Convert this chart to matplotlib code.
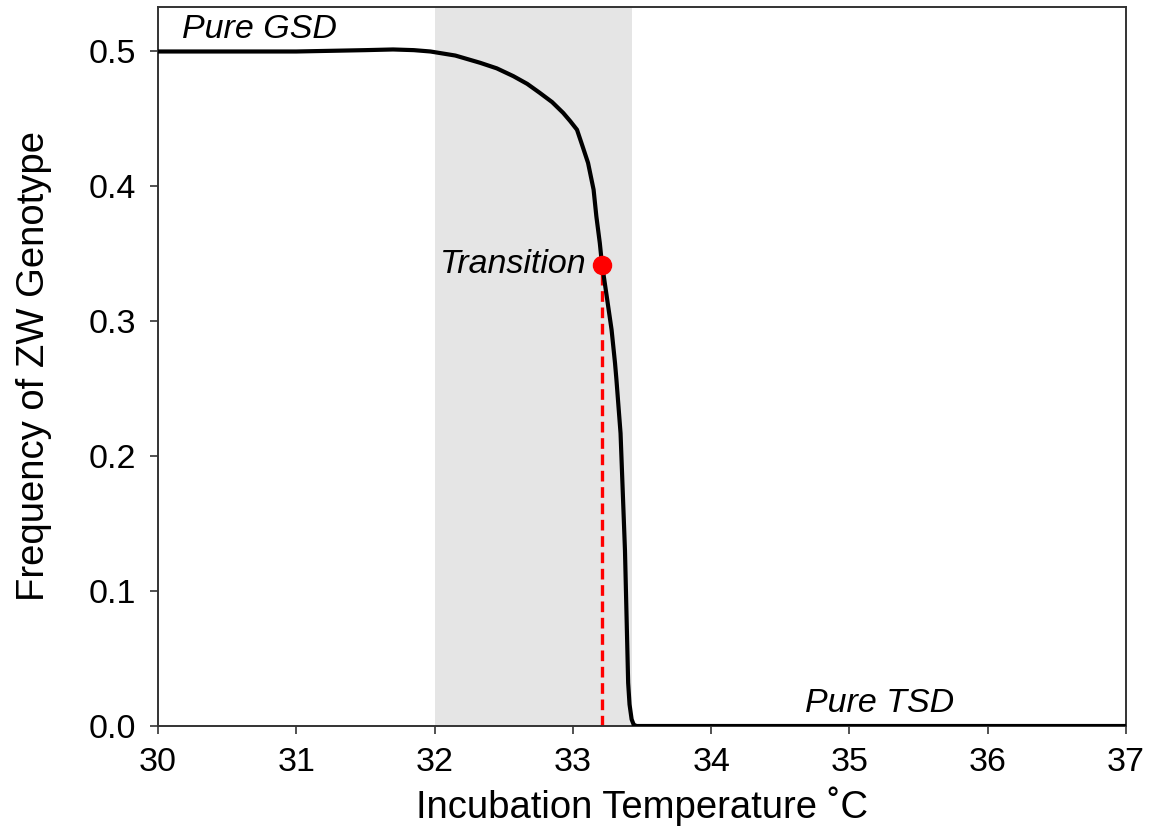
import matplotlib
matplotlib.use('Agg')
import matplotlib.pyplot as plt


# curve, temperature (C) vs ZW frequency
TEMP = [30.0, 30.5, 31.0, 31.3, 31.5, 31.7, 31.85, 31.97, 32.15, 32.33,
        32.45, 32.57, 32.67, 32.76, 32.85, 32.93, 32.98, 33.03, 33.07,
        33.11, 33.15, 33.17, 33.195, 33.21, 33.245, 33.28, 33.305, 33.315,
        33.345, 33.377, 33.4, 33.41, 33.425, 33.44, 33.46, 34.0, 37.0]
FREQ = [0.5, 0.5, 0.5, 0.5006, 0.501, 0.5015, 0.501, 0.5, 0.497, 0.4916,
        0.4875, 0.4817, 0.476, 0.4694, 0.4625, 0.4545, 0.4485, 0.442, 0.4298,
        0.4174, 0.3976, 0.3778, 0.358, 0.343, 0.3185, 0.2938, 0.269, 0.257,
        0.217, 0.13, 0.032, 0.016, 0.005, 0.001, 0.0, 0.0, 0.0]

SHADE = (32.0, 33.43)
TRANSITION = (33.21, 0.342)
XTICKS = [30, 31, 32, 33, 34, 35, 36, 37]
YTICKS = [0.0, 0.1, 0.2, 0.3, 0.4, 0.5]

plt.rcParams['font.family'] = ['Liberation Sans', 'DejaVu Sans']

fig = plt.figure(figsize=(11.56, 8.4), dpi=100)
ax = fig.add_axes([0.1367, 0.1357, 0.8373, 0.856])

ax.axvspan(SHADE[0], SHADE[1], color='#e5e5e5', lw=0, zorder=0)
ax.plot(TEMP, FREQ, color='black', lw=3, solid_capstyle='butt',
        solid_joinstyle='round', zorder=3)
ax.plot([TRANSITION[0], TRANSITION[0]], [0, TRANSITION[1]], color='red',
        lw=2.4, ls=(0, (3.2, 1.7)), zorder=2)
ax.plot([TRANSITION[0]], [TRANSITION[1]], 'o', color='red', ms=13, zorder=4)

ax.text(30.17, 0.516, 'Pure GSD', fontsize=24.5, style='italic', va='center')
ax.text(34.68, 0.017, 'Pure TSD', fontsize=24.5, style='italic', va='center')
ax.text(33.1, 0.342, 'Transition', fontsize=24.5, style='italic',
        va='center', ha='right')

ax.set_xlim(30, 37)
ax.set_ylim(0, 0.533)
ax.set_xticks(XTICKS)
ax.set_yticks(YTICKS)
ax.set_yticklabels([f'{v:.1f}' for v in YTICKS])
ax.tick_params(labelsize=24.5, length=6, width=1.2, color='#333333')
ax.tick_params(axis='y', pad=10)
ax.tick_params(axis='x', pad=9)
for s in ax.spines.values():
    s.set_color('#333333')
    s.set_linewidth(1.4)

ax.set_xlabel('Incubation Temperature ˚C', fontsize=27.5, labelpad=6)
ax.set_ylabel('Frequency of ZW Genotype', fontsize=27.5, labelpad=26)

fig.savefig('out.png', dpi=100)
